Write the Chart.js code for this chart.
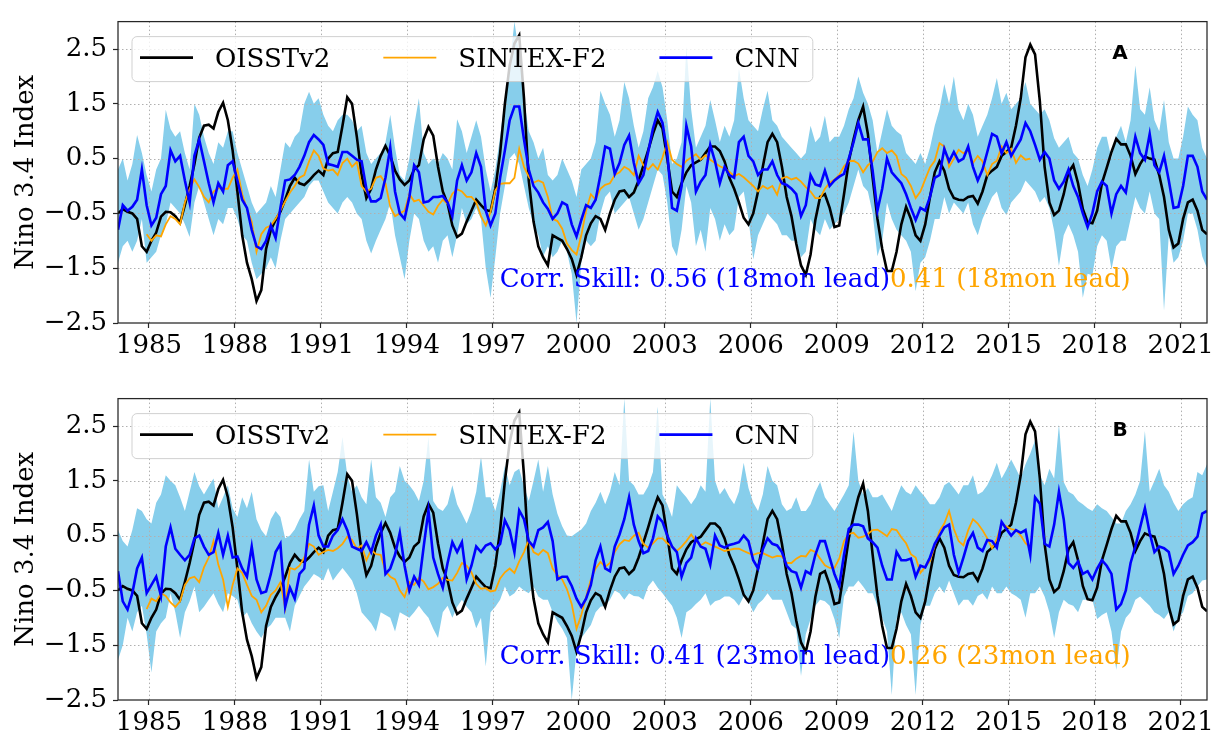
<!DOCTYPE html>
<html>
<head>
<meta charset="utf-8">
<script src="https://cdn.jsdelivr.net/npm/chart.js@4.4.1/dist/chart.umd.min.js"></script>
<style>
  html, body { margin: 0; padding: 0; background: #fff; }
  #wrap { position: relative; width: 1224px; height: 737px; }
  canvas { position: absolute; left: 0; }
  #panelA { top: 0; }
  #panelB { top: 377px; }
</style>
</head>
<body>
<div id="wrap">
  <canvas id="panelA" width="1224" height="365"></canvas>
  <canvas id="panelB" width="1224" height="360"></canvas>
</div>
<script>
// Samples every two months, the first one in Dec 1983
const startYear = 1983.92;
const stepYears = 1 / 6;
const yearTicks = [1985, 1988, 1991, 1994, 1997, 2000, 2003, 2006, 2009, 2012, 2015, 2018, 2021];
const indexTicks = [-2.5, -1.5, -0.5, 0.5, 1.5, 2.5];

// observed Nino 3.4 (OISSTv2), shared by both panels
const oisst = [
  -0.5, -0.42, -0.47, -0.5, -0.6, -1.1,
  -1.2, -1.0, -0.85, -0.56, -0.47, -0.48,
  -0.55, -0.67, -0.35, 0.0, 0.4, 0.88,
  1.1, 1.12, 1.05, 1.35, 1.52, 1.2,
  0.65, -0.1, -0.9, -1.4, -1.7, -2.1,
  -1.9, -1.15, -0.8, -0.62, -0.47, -0.25,
  0.0, 0.15, 0.05, 0.02, 0.1, 0.2,
  0.28, 0.2, 0.5, 0.6, 0.62, 1.1,
  1.62, 1.5, 0.9, 0.2, -0.22, -0.05,
  0.3, 0.55, 0.73, 0.55, 0.28, 0.12,
  0.02, 0.1, 0.3, 0.38, 0.85, 1.08,
  0.92, 0.35, -0.1, -0.32, -0.72, -0.93,
  -0.87, -0.65, -0.45, -0.25, -0.35, -0.44,
  -0.46, -0.05, 0.6, 1.5, 2.2, 2.6,
  2.75, 1.6, 0.1, -0.65, -1.1, -1.3,
  -1.45, -0.9, -0.95, -1.0, -1.15, -1.33,
  -1.62, -1.3, -0.9, -0.68, -0.55, -0.6,
  -0.8, -0.5, -0.25, -0.1, -0.08, -0.2,
  -0.12, 0.1, 0.37, 0.65, 0.95, 1.2,
  1.05, 0.5, -0.1, -0.2, 0.05, 0.25,
  0.38, 0.43, 0.48, 0.6, 0.72, 0.72,
  0.64, 0.45, 0.15, -0.05, -0.3, -0.58,
  -0.7, -0.5, -0.1, 0.35, 0.8, 0.95,
  0.8, 0.35, -0.2, -0.55, -1.05, -1.45,
  -1.62, -1.25, -0.62, -0.2, -0.15, -0.4,
  -0.75, -0.72, -0.15, 0.45, 0.85, 1.2,
  1.45, 0.95, 0.15, -0.6, -1.15, -1.55,
  -1.55, -1.2, -0.7, -0.38, -0.6, -0.9,
  -1.0, -0.7, -0.2, 0.25, 0.45, 0.28,
  -0.05, -0.22, -0.25, -0.26, -0.2, -0.18,
  -0.32, -0.1, 0.2, 0.28, 0.35, 0.55,
  0.62, 0.7, 1.1, 1.6, 2.35, 2.58,
  2.4, 1.55, 0.35, -0.3, -0.53, -0.45,
  -0.15, 0.25, 0.38, 0.05, -0.42, -0.66,
  -0.68, -0.45, 0.05, 0.33, 0.62, 0.86,
  0.76, 0.76, 0.55, 0.22, 0.4, 0.54,
  0.5, 0.48, 0.2, -0.2, -0.8, -1.12,
  -1.05, -0.6, -0.3, -0.25, -0.45, -0.8,
  -0.88
];

// panel A: 18-month lead
const cnnA = [
  -0.8, -0.35, -0.45, -0.38, -0.25, 0.3,
  -0.35, -0.72, -0.58, -0.15, 0.0, 0.65,
  0.45, 0.55, 0.1, -0.3, 0.55, 0.85,
  0.45, 0.05, -0.3, 0.05, -0.1, 0.38,
  0.45, 0.1, -0.25, -0.4, -0.8, -1.1,
  -1.15, -1.0, -0.72, -0.95, -0.4, 0.1,
  0.12, 0.2, 0.35, 0.55, 0.8, 0.93,
  0.85, 0.75, 0.4, 0.38, 0.35, 0.62,
  0.62, 0.55, 0.48, 0.45, -0.05, -0.28,
  -0.28, -0.22, 0.15, 0.7, -0.1, -0.5,
  -0.6, -0.2, 0.38, 0.25, -0.3, -0.28,
  -0.2, -0.2, -0.18, -0.3, -0.55, 0.1,
  0.38, 0.1, 0.25, 0.6, 0.35, -0.45,
  -0.72, -0.5, 0.15, 0.65, 1.2, 1.45,
  1.45, 0.85, 0.3, 0.0, -0.12, -0.3,
  -0.42, -0.6, -0.5, -0.3, -0.35, -0.7,
  -0.92, -0.62, -0.35, -0.4, -0.25, 0.2,
  0.72, 0.68, 0.22, 0.42, 0.75, 0.92,
  0.42, 0.05, 0.2, 0.62, 1.05, 1.35,
  1.15, 0.6, -0.4, -0.45, 0.0, 1.1,
  0.72, -0.1, 0.08, 0.2, 0.75, 0.45,
  0.05, 0.35, 0.2, 0.15, 0.8, 0.9,
  0.55, 0.45, 0.2, 0.3, 0.3, 0.45,
  0.2, 0.05, 0.02, -0.05, -0.15, -0.55,
  -0.35, 0.2, 0.03, 0.0, 0.28, 0.0,
  0.1, 0.17, 0.22, 0.5, 0.8, 1.15,
  0.85, 0.85, 0.28, -0.45, -0.05, 0.5,
  0.25, 0.15, 0.05, -0.15, -0.4, -0.62,
  -0.4, -0.45, -0.2, 0.15, 0.2, 0.68,
  0.45, 0.62, 0.45, 0.5, 0.72, 0.35,
  0.1, 0.3, 0.62, 0.95, 0.9, 0.6,
  0.8, 0.55, 0.7, 0.85, 1.15, 1.0,
  0.75, 0.48, 0.62, 0.5, 0.1, -0.05,
  0.08, 0.3, 0.0, -0.2, -0.5, -0.75,
  -0.5, -0.1, 0.08, 0.0, -0.5, -0.15,
  0.0, -0.12, 0.4, 0.9, 0.6, 0.48,
  0.95, 0.38, 0.25, 0.55, 0.1, -0.4,
  -0.38, 0.0, 0.55, 0.55, 0.35, -0.1,
  -0.25
];
const spreadHiA = [
  0.3, 0.5, 0.1, 0.4, 0.93, 0.6,
  0.2, -0.1, 0.3, 0.5, 1.39, 1.04,
  0.9, 1.0, 0.6, 0.3, 1.5, 1.3,
  0.9, 0.6, 0.4, 0.8, 0.7, 1.0,
  1.0, 0.6, 0.3, 0.0, -0.3, -0.5,
  -0.4, -0.3, 0.0, -0.2, 0.3, 0.8,
  0.7, 0.9, 1.0, 1.5, 1.72, 1.5,
  1.6, 1.3, 1.1, 1.0, 1.2, 1.3,
  1.3, 1.2, 1.0, 1.1, 0.6, 0.4,
  0.5, 0.6, 0.8, 1.3, 0.7, 0.2,
  0.1, 0.5, 1.1, 1.6, 0.6, 0.4,
  0.5, 0.4, 0.6, 0.5, 0.3, 1.22,
  1.0, 0.6, 0.9, 1.2, 0.9, 0.3,
  -0.1, 0.3, 0.9, 1.6, 2.2, 3.0,
  2.4, 1.6, 1.0, 0.8, 0.5, 0.7,
  0.2, 0.1, 0.2, 0.5, 0.3, 0.1,
  -0.2, 0.3, 0.4, 0.5, 0.8, 1.74,
  1.5, 1.3, 0.9, 1.2, 1.9, 1.6,
  1.1, 0.7, 1.0, 1.6, 1.8, 2.1,
  1.8, 1.2, 0.4, 0.5, 0.8, 2.55,
  1.4, 0.7, 0.9, 1.1, 1.57, 1.2,
  0.8, 1.1, 0.9, 1.2, 2.15, 1.6,
  1.2, 1.1, 1.0, 1.4, 1.74, 1.2,
  1.1, 0.9, 0.8, 0.7, 0.6, 0.5,
  0.6, 1.1, 0.8, 0.9, 1.28, 0.8,
  0.9, 0.9, 1.1, 1.4, 1.6, 2.0,
  1.7, 1.5, 1.2, 0.6, 1.0, 1.4,
  1.1, 1.0, 0.93, 0.6, 0.5, 0.4,
  0.6, 0.4, 0.7, 1.1, 1.4, 1.86,
  1.5, 2.0, 1.4, 1.2, 1.5, 1.3,
  0.9, 1.1, 1.3, 1.6, 1.97, 1.5,
  1.7, 1.4, 1.5, 1.6, 1.9, 1.5,
  1.4, 1.3, 1.4, 1.2, 0.87, 0.7,
  0.8, 0.9, 0.6, 0.5, 0.2, 0.0,
  0.3, 0.7, 0.9, 0.9, 0.5, 0.9,
  1.1, 0.8, 1.2, 2.2, 1.4, 1.3,
  1.8, 1.2, 1.0, 1.57, 0.8, 0.5,
  0.5, 0.9, 1.45, 1.3, 1.2, 0.7,
  0.5
];
const spreadLoA = [
  -1.4, -1.1, -1.0, -1.2, -1.0, -0.6,
  -1.4, -1.3, -1.2, -0.9, -0.7, -0.3,
  -0.4, -0.5, -0.7, -0.93, -0.3, 0.0,
  -0.3, -0.6, -0.9, -0.6, -0.7, -0.4,
  -0.4, -0.6, -0.9, -1.0, -1.4, -1.7,
  -1.6, -1.5, -1.3, -1.5, -1.0, -0.6,
  -0.5, -0.4, -0.3, -0.2, 0.0, 0.1,
  0.1, -0.1, -0.3, -0.4, -0.5, -0.3,
  -0.2, -0.3, -0.5, -0.6, -1.0, -1.23,
  -1.0, -0.8, -0.6, -0.3, -0.9, -1.3,
  -1.7, -1.0, -0.5, -0.6, -1.0, -1.2,
  -1.1, -1.4, -1.0, -0.9, -1.3, -0.9,
  -0.4, -0.7, -0.6, -0.4, -0.6, -1.5,
  -2.04, -1.3, -0.5, 0.0, 0.5, 0.6,
  0.4, 0.0, -0.4, -0.7, -0.9, -1.28,
  -1.1, -1.3, -1.2, -1.0, -1.2, -1.6,
  -2.5, -1.4, -1.0, -1.1, -1.0, -0.5,
  -0.2, -0.1, -0.5, -0.4, -0.3, -0.2,
  -0.5, -0.8, -0.6, -0.3, 0.0, 0.3,
  0.2, -0.3, -1.1, -1.28, -0.8, 0.0,
  -0.3, -1.1, -0.8, -1.2, -0.4, -0.6,
  -1.0, -0.7, -0.9, -0.8, -0.2, -0.1,
  -0.6, -1.34, -0.9, -0.7, -0.5, -0.6,
  -0.7, -0.9, -0.9, -1.0, -1.0, -1.3,
  -1.2, -0.6, -0.8, -0.9, -0.6, -0.8,
  -0.7, -0.6, -0.5, -0.3, 0.0, 0.3,
  0.0, -0.1, -0.5, -1.28, -1.0, -0.3,
  -0.6, -0.8, -0.9, -1.0, -1.2, -1.92,
  -1.4, -1.3, -1.0, -0.6, -0.6, -0.2,
  -0.5, -0.3, -0.4, -0.5, -0.3, -0.7,
  -0.9, -0.6, -0.4, -0.2, -0.1, -0.4,
  -0.53, -0.3, -0.2, -0.1, 0.1, 0.0,
  -0.1, -0.3, -0.2, -0.4, -0.82, -1.46,
  -0.9, -0.7, -0.9, -1.2, -2.04, -1.6,
  -1.63, -1.1, -0.9, -1.0, -1.52, -1.1,
  -1.0, -1.0, -0.6, -0.2, -0.4, -0.5,
  -0.1, -0.5, -0.6, -2.27, -0.9, -1.4,
  -1.3, -1.0, -0.5, -0.5, -0.8, -1.28,
  -1.5
];
// SINTEX-F2 runs Dec 1984 .. Oct 2015
const sintexFrom = 6;
const sintexA = [
  -0.88, -1.0, -0.9, -0.92, -0.7, -0.55,
  -0.6, -0.7, -0.3, -0.05, 0.12, -0.02,
  -0.2, -0.3, -0.1, -0.04, -0.05, -0.05,
  0.15, 0.3, -0.15, -0.42, -0.65, -1.2,
  -0.88, -0.76, -0.72, -0.6, -0.45, -0.28,
  -0.12, 0.0, 0.15, 0.2, 0.45, 0.65,
  0.55, 0.32, 0.28, 0.3, 0.2, 0.42,
  0.5, 0.35, 0.44, 0.0, -0.1, -0.05,
  0.15, 0.18, 0.05, -0.38, -0.55, -0.5,
  -0.45, -0.15, -0.28, -0.25, -0.36, -0.47,
  -0.52, -0.36, -0.25, -0.33, -0.14, -0.06,
  -0.1, -0.2, -0.2, -0.3, -0.55, -0.72,
  -0.47, -0.08, 0.04, 0.05, 0.05, 0.15,
  0.68, 0.35, 0.17, 0.06, 0.1, 0.06,
  -0.2, -0.6, -0.64, -0.78, -1.05, -1.17,
  -1.25, -0.9, -0.45, -0.15, -0.25, -0.05,
  0.02, 0.05, 0.2, 0.25, 0.35, 0.3,
  0.2, 0.55, 0.38, 0.3, 0.4, 0.3,
  0.52, 0.8, 0.48, 0.4, 0.35, 0.46,
  0.52, 0.58, 0.48, 0.56, 0.48, 0.42,
  0.36, 0.32, 0.26, 0.18, 0.22, 0.16,
  0.08, 0.0, -0.1, 0.0, -0.05, 0.0,
  -0.16, 0.14, 0.17, 0.12, 0.15, 0.08,
  -0.02, -0.1, -0.22, -0.22, -0.05, 0.06,
  0.12, 0.2, 0.36, 0.45, 0.46, 0.41,
  0.25, 0.38, 0.45, 0.62, 0.69, 0.6,
  0.65, 0.55, 0.22, 0.15, 0.0, -0.22,
  -0.1, 0.12, 0.34, 0.46, 0.78, 0.72,
  0.35, 0.5, 0.66, 0.6, 0.65, 0.42,
  0.55, 0.45, 0.2, 0.4, 0.46, 0.72,
  0.6, 0.68, 0.42, 0.56, 0.48, 0.5
];

// panel B: 23-month lead
const cnnB = [
  -0.15, -0.7, -0.85, -0.55, -0.1, 0.1,
  -0.55, -0.4, -0.25, -0.6, 0.3, 0.65,
  0.26, 0.15, 0.05, 0.15, 0.45, 0.5,
  0.3, 0.15, 0.2, 0.55, 0.15, 0.5,
  0.1, 0.12, -0.1, -0.25, 0.3, -0.3,
  -0.55, -0.52, -0.2, 0.2, 0.35, -0.8,
  -0.45, -0.65, -0.2, -0.1, 0.7, 1.05,
  0.5, 0.3, 0.3, 0.5, 0.6, 0.8,
  0.6, 0.3, 0.26, 0.22, 0.38, 0.2,
  0.5, 0.7, -0.2, -0.1, 0.15, 0.55,
  -0.05, -0.5, -0.25, -0.4, 0.3, 0.96,
  0.1, -0.2, -0.45, 0.0, 0.38, 0.2,
  0.38, -0.3, -0.05, 0.3, 0.2, 0.32,
  0.36, 0.25, 0.35, 0.78, 0.6, 0.2,
  0.96, 0.8, 0.4, 0.3, 0.6, 0.65,
  0.75, 0.4, -0.3, -0.25, -0.25, -0.42,
  -0.65, -0.8, -0.65, -0.4, 0.05, 0.3,
  -0.1, -0.15, 0.3, 0.52, 0.8, 1.2,
  0.7, 0.4, 0.18, 0.22, 0.45, 0.85,
  0.75, 0.5, 0.3, 0.2, -0.25, 0.0,
  0.1, 0.45, 0.3, 0.26, -0.03, 0.5,
  0.32, 0.28, 0.33, 0.35, 0.38, 0.5,
  0.4, 0.05, -0.1, 0.25, 0.45, 0.35,
  0.32, 0.2, -0.05, -0.15, -0.18, -0.45,
  -0.15, -0.2, 0.15, 0.4, 0.4, 0.1,
  -0.2, -0.42, 0.15, 0.62, 0.7, 0.7,
  0.67, 0.45, 0.38, 0.28, -0.05, -0.3,
  -0.3, 0.2, 0.05, 0.05, 0.08, -0.25,
  -0.05, -0.08, 0.1, 0.35, 0.5, 0.65,
  0.7, 0.15, -0.18, 0.1, 0.4, 0.55,
  0.28, 0.22, 0.42, 0.4, 0.28, 0.75,
  0.62, 0.5, 0.6, 0.55, 0.6, 0.15,
  1.2, 1.08, 0.35, 0.3, 0.7, 1.3,
  0.8, 0.0, -0.09, 0.03, -0.2, -0.15,
  -0.3, -0.1, 0.05, -0.05, -0.2, -0.85,
  -0.75, -0.5, 0.0, 0.3, 0.65, 1.0,
  0.55, 0.2, 0.3, 0.27, 0.2, -0.2,
  -0.05, 0.15, 0.32, 0.38, 0.48, 0.9,
  0.95
];
const spreadHiB = [
  0.6, 0.4, 0.3, 0.6, 1.0, 0.95,
  0.8, 0.72, 1.1, 1.25, 1.6, 1.5,
  1.42, 1.2, 0.95, 1.3, 1.66, 1.4,
  1.25, 1.4, 1.54, 1.0, 1.2, 1.42,
  1.0, 0.84, 1.2, 1.0, 1.3, 0.8,
  0.6, 0.49, 0.8, 0.95, 0.84, 0.45,
  0.5, 0.61, 0.8, 0.95, 1.89, 1.3,
  1.4, 1.42, 0.95, 1.3, 1.66, 2.3,
  1.6, 1.3, 1.42, 1.2, 1.07, 1.89,
  1.2, 1.1, 0.84, 1.2, 1.3, 1.77,
  1.5, 1.42, 1.3, 1.13, 1.5, 2.3,
  1.13, 1.0, 0.95, 1.07, 1.42, 1.07,
  0.9, 0.72, 0.95, 1.3, 1.95, 1.2,
  1.2, 0.95, 1.3, 1.77, 1.42, 1.66,
  1.72, 1.4, 1.13, 1.5, 1.89, 1.3,
  1.77, 1.25, 0.9, 0.67, 0.5, 0.49,
  0.55, 0.61, 0.72, 0.95, 1.1, 1.3,
  1.07, 1.3, 1.66, 1.42, 3.0, 1.5,
  1.42, 1.25, 1.25, 1.4, 1.66, 2.85,
  1.25, 1.07, 0.84, 1.42, 1.3, 1.2,
  1.07, 1.2, 1.42, 1.3, 3.0, 1.5,
  1.25, 1.37, 1.2, 1.07, 1.3, 1.83,
  1.37, 1.1, 0.95, 1.25, 1.77, 1.5,
  1.42, 1.07, 0.95, 1.0, 1.2, 0.95,
  0.95, 1.07, 1.3, 1.48, 1.2, 1.07,
  0.95, 1.1, 1.25, 1.42, 2.4, 1.5,
  1.25, 1.37, 1.2, 1.2, 1.25, 1.1,
  0.95, 1.2, 1.42, 1.3, 1.25, 1.42,
  1.3, 1.2, 1.07, 1.07, 1.2, 1.42,
  1.48, 1.37, 1.25, 1.42, 1.42, 1.6,
  1.25, 1.3, 1.42, 1.6, 1.83, 1.54,
  1.7, 1.89, 1.72, 1.54, 1.8, 2.0,
  2.24, 1.6, 1.42, 1.72, 1.54, 2.53,
  1.48, 1.3, 1.25, 1.13, 1.07, 1.0,
  0.95, 1.07, 1.0, 0.95, 0.84, 0.72,
  0.72, 0.95, 1.07, 1.25, 1.5, 2.41,
  1.3, 1.5, 1.72, 1.42, 1.3, 1.1,
  0.95, 1.07, 1.15, 1.2, 1.66, 1.6,
  1.8
];
const spreadLoB = [
  -1.77, -1.5, -1.0, -1.25, -0.9, -0.78,
  -1.3, -2.0, -1.25, -1.1, -1.0, -0.55,
  -0.9, -1.37, -0.9, -0.7, -0.43, -0.9,
  -0.8, -0.67, -0.55, -0.75, -0.9, -0.55,
  -0.6, -0.67, -1.0, -0.9, -1.1, -1.25,
  -1.37, -1.2, -1.13, -1.0, -1.0, -1.0,
  -1.25, -0.78, -0.6, -0.43, -0.32, -0.2,
  -0.25, -0.32, -0.09, -0.32, -0.2, -0.09,
  -0.2, -0.32, -0.55, -0.9, -1.0, -1.1,
  -1.25, -0.9, -0.95, -1.0, -1.25, -0.9,
  -0.95, -1.0, -0.9, -0.78, -0.9, -1.0,
  -1.2, -1.37, -0.9, -0.78, -1.0, -0.8,
  -0.67, -0.8, -0.9, -1.19, -1.0, -1.89,
  -0.9, -0.8, -0.67, -0.43, -0.61, -0.55,
  -0.43, -0.5, -0.55, -0.43, -0.61, -0.67,
  -0.67, -0.9, -1.07, -1.2, -1.37, -2.5,
  -1.6, -1.37, -1.25, -1.13, -0.9, -0.8,
  -0.78, -0.67, -0.5, -0.55, -0.67, -0.55,
  -0.6, -0.61, -0.67, -0.43, -0.32, -0.45,
  -0.55, -0.67, -0.78, -1.0, -1.37, -0.9,
  -0.84, -0.75, -0.67, -0.55, -0.78, -0.7,
  -0.67, -0.61, -0.61, -0.67, -0.78, -0.61,
  -0.7, -0.9, -0.75, -0.67, -0.55, -0.67,
  -0.67, -0.67, -0.9, -1.13, -1.2, -2.06,
  -1.3, -1.02, -0.78, -0.67, -0.7, -0.78,
  -1.02, -1.37, -0.61, -0.43, -0.43, -0.32,
  -0.43, -0.55, -0.55, -0.78, -1.0, -1.25,
  -2.41, -1.02, -0.9, -1.13, -1.3, -2.41,
  -1.13, -0.78, -0.78, -0.55, -0.43, -0.55,
  -0.32, -0.55, -0.78, -0.67, -0.67, -0.78,
  -0.6, -0.55, -0.67, -0.43, -0.55, -0.55,
  -0.43, -0.55, -0.6, -0.67, -1.0, -0.55,
  -0.55, -0.43, -0.61, -0.9, -1.37, -0.9,
  -0.67, -0.75, -0.78, -0.9, -0.67, -0.67,
  -0.67, -1.02, -0.95, -0.9, -1.25, -1.95,
  -1.25, -1.0, -0.9, -0.67, -0.61, -0.7,
  -0.78, -0.9, -0.95, -1.02, -0.9, -1.25,
  -1.0, -0.9, -0.6, -0.55, -0.43, -0.32,
  -0.3
];
const sintexB = [
  -0.84, -0.65, -0.7, -0.55, -0.6, -0.72,
  -0.8, -0.7, -0.4, -0.28, -0.25, -0.35,
  -0.08, 0.1, 0.4, -0.03, -0.3, -0.8,
  -0.4, -0.1, -0.18, -0.4, -0.6, -0.67,
  -0.9, -0.78, -0.58, -0.5, -0.35, -0.82,
  -0.09, -0.12, -0.05, 0.1, 0.35, 0.3,
  0.15, 0.2, 0.24, 0.22, 0.27, 0.35,
  0.48, 0.42, 0.26, 0.32, 0.05, 0.24,
  0.16, 0.15, -0.15, -0.25, -0.3, -0.5,
  -0.62, -0.35, -0.4, -0.27, -0.34, -0.48,
  -0.44, -0.38, -0.27, -0.31, -0.32, -0.18,
  0.0, -0.05, -0.17, -0.38, -0.47, -0.46,
  -0.52, -0.5, -0.28, -0.17, -0.1, -0.18,
  0.03, 0.2, 0.42, 0.2, 0.15, 0.24,
  0.18, -0.1, -0.22, -0.3, -0.48, -0.75,
  -1.2, -0.95, -0.62, -0.3, -0.1, 0.02,
  -0.07, 0.0, 0.2, 0.34, 0.42, 0.4,
  0.5, 0.55, 0.35, 0.28, 0.36, 0.45,
  0.45, 0.36, 0.3, 0.22, 0.3, 0.4,
  0.52, 0.4, 0.32, 0.38, 0.34, 0.3,
  0.26, 0.22, 0.24, 0.26, 0.26, 0.22,
  0.18, 0.15, 0.18, 0.18, 0.14, 0.1,
  0.13, 0.12, 0.0, 0.0, 0.08, 0.13,
  0.12, 0.24, 0.2, 0.08, -0.04, -0.09,
  -0.09, 0.08, 0.4, 0.53, 0.55, 0.46,
  0.48, 0.53, 0.6, 0.61, 0.55, 0.49,
  0.62, 0.6, 0.47, 0.36, 0.16, 0.1,
  -0.18, -0.07, 0.03, 0.32, 0.58, 0.72,
  0.95, 0.62, 0.4, 0.32, 0.6, 0.8,
  0.72, 0.6, 0.45, 0.27, 0.44, 0.72,
  0.67, 0.62, 0.6, 0.5, 0.36, 0.28
];

const SERIF = '"DejaVu Serif", serif';
const BLUE = '#0000ff';
const ORANGE = '#ffa500';
const SKY = '#87ceeb';

const toPoints = (vals, from = 0) =>
  vals.map((v, i) => ({ x: startYear + (i + from) * stepYears, y: v }));

const fmtIndex = v => (v < 0 ? '\u2212' : '') + Math.abs(v).toFixed(1);

// grid drawn right after the spread band, so it sits above the fill but under the lines
function drawGrid(chart) {
  const { ctx, chartArea: a, scales: { x, y } } = chart;
  ctx.save();
  ctx.beginPath();
  ctx.rect(a.left, a.top, a.width, a.height);
  ctx.clip();
  ctx.strokeStyle = '#b0b0b0';
  ctx.lineWidth = 1;
  ctx.setLineDash([1.5, 2.5]);
  ctx.beginPath();
  x.ticks.forEach(t => {
    const px = Math.round(x.getPixelForValue(t.value)) + 0.5;
    ctx.moveTo(px, a.top);
    ctx.lineTo(px, a.bottom);
  });
  y.ticks.forEach(t => {
    const py = Math.round(y.getPixelForValue(t.value)) + 0.5;
    ctx.moveTo(a.left, py);
    ctx.lineTo(a.right, py);
  });
  ctx.stroke();
  ctx.restore();
}

const decor = {
  id: 'decor',
  afterDatasetDraw(chart, args) {
    if (args.index === 0) drawGrid(chart);
  },
  afterDatasetsDraw(chart, args, opts) {
    const { ctx, scales: { x, y } } = chart;
    ctx.save();
    ctx.font = `26px ${SERIF}`;
    ctx.textAlign = 'left';
    ctx.textBaseline = 'alphabetic';
    const px = x.getPixelForValue(opts.skillAt[0]);
    const py = y.getPixelForValue(opts.skillAt[1]);
    ctx.fillStyle = BLUE;
    ctx.fillText(opts.cnnSkill, px, py);
    const w = ctx.measureText(opts.cnnSkill).width;
    ctx.fillStyle = ORANGE;
    ctx.fillText(opts.sintexSkill, px + w, py);
    ctx.restore();
  },
  afterDraw(chart, args, opts) {
    const { ctx, chartArea: a } = chart;
    ctx.save();

    // legend, one row, semi-transparent box
    ctx.font = `26px ${SERIF}`;
    const items = [2, 3, 4].map(i => chart.data.datasets[i]);
    const boxL = a.left + 14, boxT = a.top + 15, boxH = 45;
    const handle = 53, gap = 22, colGap = 53;
    let cx = boxL + 8;
    const layout = items.map(ds => {
      const w = ctx.measureText(ds.label).width;
      const item = { ds, hx: cx, tx: cx + handle + gap };
      cx = item.tx + w + colGap;
      return item;
    });
    const boxR = cx - colGap + 13;
    ctx.beginPath();
    ctx.roundRect(boxL, boxT, boxR - boxL, boxH, 5);
    ctx.fillStyle = 'rgba(255,255,255,0.8)';
    ctx.fill();
    ctx.strokeStyle = 'rgba(204,204,204,0.9)';
    ctx.lineWidth = 1;
    ctx.stroke();
    const midY = boxT + 21;
    layout.forEach(it => {
      ctx.beginPath();
      ctx.moveTo(it.hx, midY);
      ctx.lineTo(it.hx + handle, midY);
      ctx.strokeStyle = it.ds.borderColor;
      ctx.lineWidth = it.ds.borderWidth;
      ctx.stroke();
      ctx.fillStyle = '#000';
      ctx.textBaseline = 'alphabetic';
      ctx.fillText(it.ds.label, it.tx, midY + 9.5);
    });

    // panel letter
    ctx.font = `bold 20px "DejaVu Sans", sans-serif`;
    ctx.fillStyle = '#000';
    ctx.textAlign = 'center';
    ctx.fillText(opts.letter, a.right - 87, a.top + 37);

    // y axis title
    ctx.font = `26px ${SERIF}`;
    ctx.translate(33, (a.top + a.bottom) / 2);
    ctx.rotate(-Math.PI / 2);
    ctx.textAlign = 'center';
    ctx.fillText('Nino 3.4 Index', 0, 0);
    ctx.setTransform(1, 0, 0, 1, 0, 0);

    // axes frame
    ctx.strokeStyle = '#262626';
    ctx.lineWidth = 1.25;
    ctx.strokeRect(a.left, a.top, a.width, a.height);
    ctx.restore();
  }
};

function makePanel(id, cnn, hi, lo, sintex, xAxisHeight, topPad, letter, cnnSkill, sintexSkill) {
  const tickGrid = {
    drawOnChartArea: false,
    drawTicks: true,
    tickLength: 5,
    tickWidth: 1.2,
    tickColor: '#262626'
  };
  return new Chart(document.getElementById(id), {
    type: 'line',
    data: {
      datasets: [
        { label: 'spread', data: toPoints(hi), borderWidth: 0, borderColor: SKY,
          backgroundColor: SKY, fill: '+1', order: 4 },
        { label: 'spreadLow', data: toPoints(lo), borderWidth: 0, borderColor: SKY,
          fill: false, order: 5 },
        { label: 'OISSTv2', data: toPoints(oisst), borderColor: '#000000',
          borderWidth: 2.6, fill: false, order: 3 },
        { label: 'SINTEX-F2', data: toPoints(sintex, sintexFrom), borderColor: ORANGE,
          borderWidth: 1.8, fill: false, order: 2 },
        { label: 'CNN', data: toPoints(cnn), borderColor: BLUE,
          borderWidth: 2.6, fill: false, order: 1 }
      ]
    },
    options: {
      responsive: false,
      animation: false,
      devicePixelRatio: 1,
      events: [],
      layout: { padding: { left: 0, top: topPad, right: 17, bottom: 0 } },
      elements: { point: { radius: 0 }, line: { tension: 0 } },
      plugins: {
        legend: { display: false },
        tooltip: { enabled: false },
        decor: { letter, cnnSkill, sintexSkill, skillAt: [1997.24, -1.84] }
      },
      scales: {
        x: {
          type: 'linear',
          min: startYear,
          max: startYear + (oisst.length - 1) * stepYears,
          afterBuildTicks: axis => { axis.ticks = yearTicks.map(v => ({ value: v })); },
          afterFit: axis => { axis.height = xAxisHeight; },
          grid: tickGrid,
          border: { display: false },
          ticks: {
            autoSkip: false, maxRotation: 0, padding: 3, color: '#000',
            font: { family: SERIF, size: 26 },
            callback: v => String(v)
          }
        },
        y: {
          min: -2.5,
          max: 3.0,
          afterBuildTicks: axis => { axis.ticks = indexTicks.map(v => ({ value: v })); },
          afterFit: axis => { axis.width = 118; },
          grid: tickGrid,
          border: { display: false },
          ticks: {
            padding: 6, color: '#000',
            font: { family: SERIF, size: 26 },
            callback: v => fmtIndex(v)
          }
        }
      }
    },
    plugins: [decor]
  });
}

makePanel('panelA', cnnA, spreadHiA, spreadLoA, sintexA, 42, 7, 'A',
  'Corr. Skill: 0.56 (18mon lead)', '0.41 (18mon lead)');
makePanel('panelB', cnnB, spreadHiB, spreadLoB, sintexB, 37, 7.5, 'B',
  'Corr. Skill: 0.41 (23mon lead)', '0.26 (23mon lead)');
</script>
</body>
</html>
